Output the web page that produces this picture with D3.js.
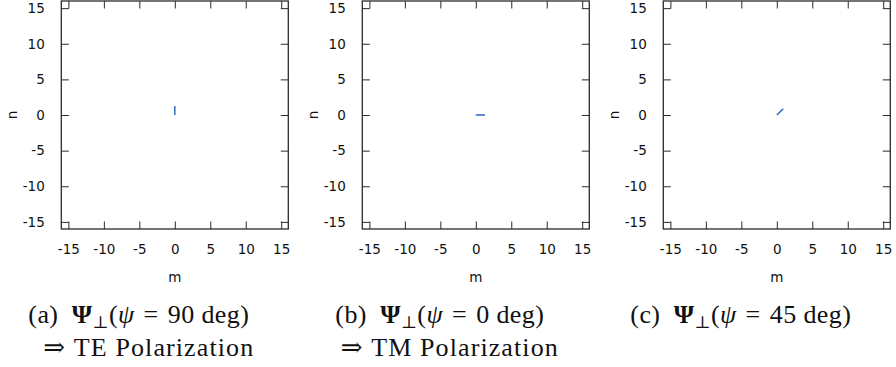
<!DOCTYPE html>
<html>
<head>
<meta charset="utf-8">
<script src="https://cdn.jsdelivr.net/npm/d3@7/dist/d3.min.js"></script>
<style>
  html, body { margin: 0; padding: 0; background: #fff; }
  svg { display: block; }
  .tick-label { font-family: "DejaVu Sans", sans-serif; font-size: 13.5px; fill: #111; }
  .axis-title { font-family: "DejaVu Sans", sans-serif; font-size: 13.5px; fill: #111; }
  .caption { font-family: "Liberation Serif", "DejaVu Serif", serif; font-size: 26px; fill: #111; letter-spacing: 0.4px; }
  .caption.second { letter-spacing: 1.1px; }
</style>
</head>
<body>
<svg id="chart" width="896" height="367"></svg>
<script>
// Panels: polarisation angle and the field vector drawn at the origin of each (m, n) grid
const panelIds = ["a", "b", "c"];
const psiDeg = [90, 0, 45];
const vecM0 = [0, 0, 0];
const vecN0 = [0, 0, 0];
const vecDm = [0, 1.3, 0.9];
const vecDn = [1.25, 0, 0.85];
const polarization = ["TE Polarization", "TM Polarization", ""];

// Axis set-up shared by the three panels
const axisDomain = [-16, 16];
const tickValues = [-15, -10, -5, 0, 5, 10, 15];
const xTitle = "m";
const yTitle = "n";

const svg = d3.select("#chart");
const plotW = 227, plotH = 228;
const panelLeft = 61.3, panelStep = 301, plotTop = 1;
const tickLen = 7.5;
const frameColor = "#2a2a2a";
const vecColor = "#3d6fc4";
const fmt = d => String(d); // plain hyphen-minus, as gnuplot prints

panelIds.forEach((id, i) => {
  const g = svg.append("g")
    .attr("transform", `translate(${panelLeft + i * panelStep},${plotTop})`);

  const x = d3.scaleLinear().domain(axisDomain).range([0, plotW]);
  const y = d3.scaleLinear().domain(axisDomain).range([plotH, 0]);

  // Inward ticks on all four sides, labels only on bottom and left
  const styleAxis = sel => {
    sel.select(".domain").remove();
    sel.selectAll(".tick line").attr("stroke", frameColor).attr("stroke-width", 1);
  };
  const styleLabels = s => s.selectAll(".tick text")
    .attr("class", "tick-label").attr("font-size", null).attr("font-family", null);

  g.append("g").attr("transform", `translate(0,${plotH})`)
    .call(d3.axisBottom(x).tickValues(tickValues).tickFormat(fmt).tickSize(-tickLen).tickPadding(tickLen + 8))
    .call(styleAxis).call(styleLabels);
  g.append("g")
    .call(d3.axisTop(x).tickValues(tickValues).tickSize(-tickLen).tickFormat(""))
    .call(styleAxis);
  g.append("g")
    .call(d3.axisLeft(y).tickValues(tickValues).tickFormat(fmt).tickSize(-tickLen).tickPadding(tickLen + 9))
    .call(styleAxis).call(styleLabels);
  g.append("g").attr("transform", `translate(${plotW},0)`)
    .call(d3.axisRight(y).tickValues(tickValues).tickSize(-tickLen).tickFormat(""))
    .call(styleAxis);

  // Border
  g.append("rect")
    .attr("x", 0).attr("y", 0).attr("width", plotW).attr("height", plotH)
    .attr("fill", "none").attr("stroke", frameColor).attr("stroke-width", 1.3);

  // Field vector
  g.append("line")
    .attr("x1", x(vecM0[i])).attr("y1", y(vecN0[i]))
    .attr("x2", x(vecM0[i] + vecDm[i])).attr("y2", y(vecN0[i] + vecDn[i]))
    .attr("stroke", vecColor).attr("stroke-width", 1.6).attr("stroke-linecap", "butt");

  // Axis titles
  g.append("text").attr("class", "axis-title")
    .attr("x", plotW / 2).attr("y", 282 - plotTop)
    .attr("text-anchor", "middle").text(xTitle);
  g.append("text").attr("class", "axis-title")
    .attr("transform", `translate(${-44.5},${plotH / 2}) rotate(-90)`)
    .attr("text-anchor", "middle").text(yTitle);

  // Caption
  const cx = plotW / 2;
  const cap = g.append("text").attr("class", "caption")
    .attr("x", cx - 36).attr("y", 323 - plotTop).attr("text-anchor", "middle");
  cap.append("tspan").text(`(${id})\u2002`);
  cap.append("tspan").attr("font-weight", "bold").text("Ψ");
  cap.append("tspan").attr("font-size", "17px").attr("dy", 5).text("⊥");
  cap.append("tspan").attr("dy", -5).text("(");
  cap.append("tspan").attr("font-style", "italic").text("ψ");
  cap.append("tspan").text(`\u2004=\u2004${psiDeg[i]} deg)`);
  if (polarization[i]) {
    g.append("text").attr("class", "caption second")
      .attr("x", cx - 26).attr("y", 356 - plotTop).attr("text-anchor", "middle")
      .text(`⇒\u2005${polarization[i]}`);
  }
});
</script>
</body>
</html>
